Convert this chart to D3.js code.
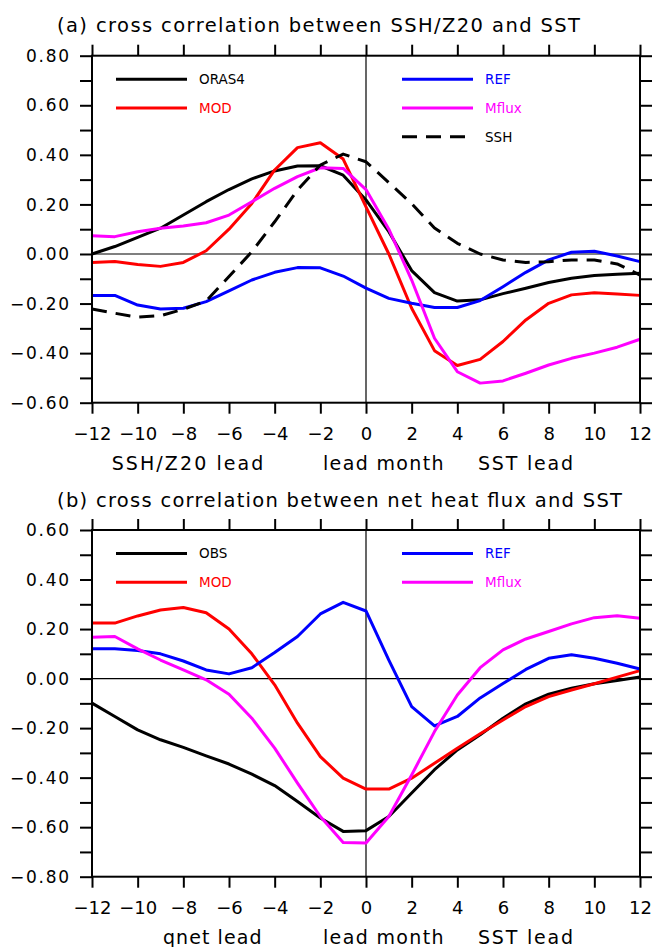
<!DOCTYPE html>
<html>
<head>
  <meta charset='utf-8' />
  <title>Cross correlation</title>
  <style>
    html, body { margin: 0; padding: 0; background: #fff; }
    svg { display: block; }
    text { font-family: 'DejaVu Sans', sans-serif; fill: #000; }
    .tick line { stroke: #000; stroke-width: 2px; }
    .series { fill: none; stroke-width: 3px; stroke-linejoin: round; }
  </style>
</head>
<body>
<svg id='chart' width='653' height='947'></svg>

<script src="https://d3js.org/d3.v7.min.js"></script>
<script>
  // lead/lag months
  const lags = [-12, -11, -10, -9, -8, -7, -6, -5, -4, -3, -2, -1, 0, 1, 2, 3, 4, 5, 6, 7, 8, 9, 10, 11, 12]
  const xTickValues = [-12, -10, -8, -6, -4, -2, 0, 2, 4, 6, 8, 10, 12]

  // panel (a): SSH/Z20 vs SST
  const oras4 = [0.00, 0.03, 0.067, 0.104, 0.157, 0.211, 0.26, 0.303, 0.335, 0.355, 0.356, 0.318, 0.218, 0.09, -0.067, -0.156, -0.19, -0.185, -0.16, -0.138, -0.115, -0.098, -0.087, -0.082, -0.078]
  const modA = [-0.034, -0.03, -0.042, -0.05, -0.034, 0.013, 0.10, 0.204, 0.339, 0.429, 0.449, 0.383, 0.19, 0.0, -0.219, -0.39, -0.45, -0.425, -0.353, -0.266, -0.199, -0.165, -0.156, -0.161, -0.167]
  const refA = [-0.167, -0.167, -0.206, -0.222, -0.219, -0.192, -0.149, -0.105, -0.074, -0.055, -0.056, -0.089, -0.138, -0.179, -0.199, -0.216, -0.216, -0.188, -0.132, -0.074, -0.024, 0.007, 0.011, -0.008, -0.031]
  const mfluxA = [0.074, 0.07, 0.09, 0.104, 0.113, 0.126, 0.157, 0.211, 0.265, 0.312, 0.348, 0.345, 0.26, 0.10, -0.105, -0.34, -0.475, -0.521, -0.512, -0.481, -0.448, -0.421, -0.40, -0.376, -0.344]
  const sshA = [-0.222, -0.239, -0.255, -0.249, -0.223, -0.19, -0.091, 0.009, 0.13, 0.258, 0.359, 0.403, 0.372, 0.288, 0.203, 0.105, 0.043, 0.0, -0.024, -0.034, -0.031, -0.024, -0.024, -0.04, -0.085]

  // panel (b): net heat flux vs SST
  const obsB = [-0.099, -0.153, -0.207, -0.247, -0.278, -0.312, -0.345, -0.386, -0.432, -0.496, -0.563, -0.617, -0.614, -0.557, -0.462, -0.368, -0.288, -0.227, -0.16, -0.102, -0.063, -0.039, -0.021, -0.008, 0.006]
  const modB = [0.224, 0.224, 0.253, 0.277, 0.287, 0.266, 0.20, 0.10, -0.025, -0.18, -0.315, -0.402, -0.446, -0.446, -0.402, -0.342, -0.281, -0.223, -0.167, -0.113, -0.073, -0.046, -0.021, 0.006, 0.032]
  const refB = [0.12, 0.12, 0.113, 0.10, 0.071, 0.035, 0.019, 0.044, 0.105, 0.17, 0.261, 0.308, 0.273, 0.075, -0.113, -0.191, -0.153, -0.078, -0.02, 0.037, 0.082, 0.096, 0.082, 0.062, 0.039]
  const mfluxB = [0.167, 0.17, 0.12, 0.075, 0.035, -0.005, -0.063, -0.16, -0.281, -0.422, -0.557, -0.662, -0.664, -0.557, -0.389, -0.214, -0.066, 0.044, 0.116, 0.16, 0.19, 0.221, 0.246, 0.254, 0.244]

  const svg = d3.select('#chart')
  const x = d3.scaleLinear().domain([-12, 12]).range([92, 640])
  const fmt = d3.format('.2f')

  const drawPanel = (p) => {
    const y = d3.scaleLinear().domain(p.yDomain).range([p.bottom, p.top])
    const g = svg.append('g')

    // title
    g.append('text')
      .attr('x', 57).attr('y', p.top - 23.5)
      .attr('font-size', 19.5)
      .attr('textLength', p.titleWidth).attr('lengthAdjust', 'spacing')
      .text(p.title)

    // zero lines
    g.append('line')
      .attr('x1', x(-12)).attr('x2', x(12)).attr('y1', y(0)).attr('y2', y(0))
      .attr('stroke', '#000').attr('stroke-width', 1.2)
    g.append('line')
      .attr('x1', x(0)).attr('x2', x(0)).attr('y1', p.top).attr('y2', p.bottom)
      .attr('stroke', '#000').attr('stroke-width', 1.2)

    // series
    const line = d3.line().x((d, i) => x(lags[i])).y(d => y(d))
    p.series.forEach(s => {
      g.append('path')
        .datum(s.values)
        .attr('class', 'series')
        .attr('stroke', s.color)
        .attr('stroke-dasharray', s.dash || null)
        .attr('d', line)
    })

    // axes
    const yMinor = y.ticks(14)
    const yMajor = y.ticks(7)
    g.append('g').attr('transform', `translate(${x(-12)},0)`)
      .call(d3.axisLeft(y).tickValues(yMinor).tickSize(12).tickSizeOuter(0).tickFormat(''))
    g.append('g').attr('transform', `translate(${x(12)},0)`)
      .call(d3.axisRight(y).tickValues(yMinor).tickSize(12).tickSizeOuter(0).tickFormat(''))
    g.append('g').attr('transform', `translate(0,${p.top})`)
      .call(d3.axisTop(x).tickValues(xTickValues).tickSize(11).tickSizeOuter(0).tickFormat(''))
    const xb = g.append('g').attr('transform', `translate(0,${p.bottom})`)
      .call(d3.axisBottom(x).tickValues(xTickValues).tickSize(11).tickSizeOuter(0).tickPadding(14))
    xb.selectAll('text').attr('font-size', 18).attr('font-family', 'DejaVu Sans')
      .text(d => d < 0 ? '\u2212' + Math.abs(d) : d)
    g.selectAll('.domain').remove()

    // y labels
    g.selectAll('.ylab')
      .data(yMajor)
      .join('text')
      .attr('class', 'ylab')
      .attr('x', 71).attr('y', d => y(d)).attr('dy', '0.36em')
      .attr('text-anchor', 'end')
      .attr('font-size', 17)
      .attr('letter-spacing', 1.8)
      .text(d => fmt(d))

    // frame
    g.append('rect')
      .attr('x', x(-12)).attr('y', p.top)
      .attr('width', x(12) - x(-12)).attr('height', p.bottom - p.top)
      .attr('fill', 'none').attr('stroke', '#000').attr('stroke-width', 2)

    // axis titles
    p.axisTitles.forEach(t => {
      g.append('text')
        .attr('x', t.x).attr('y', p.bottom + 67.3)
        .attr('font-size', 19)
        .attr('textLength', t.w).attr('lengthAdjust', 'spacing')
        .text(t.label)
    })

    // legend
    p.series.forEach(s => {
      const lx = s.col === 0 ? 116 : 402
      const ly = p.top + 23.6 + s.row * 28.7
      g.append('line')
        .attr('x1', lx).attr('x2', lx + 71).attr('y1', ly).attr('y2', ly)
        .attr('stroke', s.color).attr('stroke-width', 3)
        .attr('stroke-dasharray', s.dash || null)
      g.append('text')
        .attr('x', lx + 83).attr('y', ly).attr('dy', '0.36em')
        .attr('font-size', 13.5)
        .style('fill', s.color)
        .text(s.name)
    })
  }

  drawPanel({
    title: '(a) cross correlation between SSH/Z20 and SST',
    titleWidth: 523,
    yDomain: [-0.6, 0.8],
    top: 55.7,
    bottom: 402.7,
    axisTitles: [
      { label: 'SSH/Z20 lead', x: 111.7, w: 151.7 },
      { label: 'lead month', x: 323, w: 120.5 },
      { label: 'SST lead', x: 478, w: 95 }
    ],
    series: [
      { name: 'ORAS4', values: oras4, color: '#000000', col: 0, row: 0 },
      { name: 'MOD', values: modA, color: '#ff0000', col: 0, row: 1 },
      { name: 'REF', values: refA, color: '#0000ff', col: 1, row: 0 },
      { name: 'Mflux', values: mfluxA, color: '#ff00ff', col: 1, row: 1 },
      { name: 'SSH', values: sshA, color: '#000000', col: 1, row: 2, dash: '15,9' }
    ]
  })

  drawPanel({
    title: '(b) cross correlation between net heat flux and SST',
    titleWidth: 565,
    yDomain: [-0.8, 0.6],
    top: 530,
    bottom: 876.7,
    axisTitles: [
      { label: 'qnet lead', x: 163, w: 98.5 },
      { label: 'lead month', x: 323, w: 120.5 },
      { label: 'SST lead', x: 478, w: 95 }
    ],
    series: [
      { name: 'OBS', values: obsB, color: '#000000', col: 0, row: 0 },
      { name: 'MOD', values: modB, color: '#ff0000', col: 0, row: 1 },
      { name: 'REF', values: refB, color: '#0000ff', col: 1, row: 0 },
      { name: 'Mflux', values: mfluxB, color: '#ff00ff', col: 1, row: 1 }
    ]
  })
</script>
</body>
</html>
